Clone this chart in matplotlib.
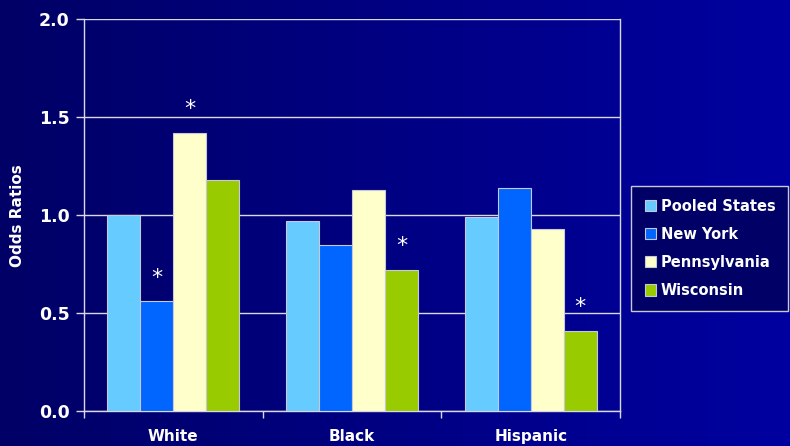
import numpy as np
import matplotlib
matplotlib.use("Agg")
import matplotlib.pyplot as plt
from matplotlib.colors import LinearSegmentedColormap

categories = ["White", "Black", "Hispanic"]
series_names = ["Pooled States", "New York", "Pennsylvania", "Wisconsin"]
pooled = [1.00, 0.97, 0.99]
new_york = [0.56, 0.85, 1.14]
pennsylvania = [1.42, 1.13, 0.93]
wisconsin = [1.18, 0.72, 0.41]
significant = [[False, False, False], [True, False, False], [True, False, False], [False, True, True]]
colors = ["#66CCFF", "#0066FF", "#FFFFCC", "#99CC00"]
y_ticks = [0.0, 0.5, 1.0, 1.5, 2.0]

series = [pooled, new_york, pennsylvania, wisconsin]

fig = plt.figure(figsize=(7.9, 4.46), dpi=100)

# gradient background
bg = fig.add_axes([0, 0, 1, 1], zorder=-10)
cmap = LinearSegmentedColormap.from_list("bg", ["#000066", "#0000A0"])
grad = np.linspace(0, 1, 256).reshape(1, -1)
bg.imshow(grad, aspect="auto", cmap=cmap, extent=[0, 1, 0, 1])
bg.set_axis_off()

ax = fig.add_axes([0.106, 0.078, 0.679, 0.879])
ax.patch.set_alpha(0)
line_c = "#D8D8E8"

x = np.arange(len(categories))
n = len(series)
bw = 0.185
for i, (vals, name, c) in enumerate(zip(series, series_names, colors)):
    pos = x + (i - (n - 1) / 2) * bw
    ax.bar(pos, vals, width=bw, color=c, edgecolor="#C8C8D8", linewidth=0.8,
           label=name, zorder=3)
    for p, v, s in zip(pos, vals, significant[i]):
        if s:
            ax.annotate("*", (p, v), xytext=(0, 17), textcoords="offset points",
                        ha="center", va="center", color="white", fontsize=16,
                        zorder=4)

ax.set_xlim(-0.5, len(categories) - 0.5)
ax.set_ylim(0, 2.0)
ax.set_yticks(y_ticks)
ax.set_yticklabels([f"{t:.1f}" for t in y_ticks])
ax.yaxis.grid(True, color=line_c, linewidth=1.0, zorder=0)
ax.set_axisbelow(True)

ax.set_xticks(x)
ax.set_xticklabels(categories)
ax.set_xticks(np.arange(-0.5, len(categories)), minor=True)
ax.tick_params(axis="x", which="major", length=0, pad=13)
ax.tick_params(axis="x", which="minor", length=5, color=line_c, width=1, direction="out")
ax.tick_params(axis="y", length=6, color=line_c, width=1, pad=4)
for lab in ax.get_xticklabels() + ax.get_yticklabels():
    lab.set_color("white")
    lab.set_fontweight("bold")
    lab.set_fontsize(12.5)
for lab in ax.get_xticklabels():
    lab.set_fontsize(11)

for s in ["left", "bottom", "right", "top"]:
    ax.spines[s].set_color(line_c)
    ax.spines[s].set_linewidth(1.0)
ax.spines["top"].set_visible(False)

ax.set_ylabel("Odds Ratios", color="white", fontweight="bold", fontsize=11, labelpad=10)

leg = fig.legend(loc="center left", bbox_to_anchor=(0.79, 0.443), frameon=True,
                 fancybox=False, facecolor="#000066", edgecolor="#C8C8D8",
                 handlelength=0.8, handleheight=0.8, handletextpad=0.3,
                 labelspacing=0.9, borderpad=0.9, fontsize=10.5)
leg.get_frame().set_linewidth(1.0)
leg.get_frame().set_alpha(1)
for t in leg.get_texts():
    t.set_color("white")
    t.set_fontweight("bold")

fig.savefig("out.png", dpi=100)
